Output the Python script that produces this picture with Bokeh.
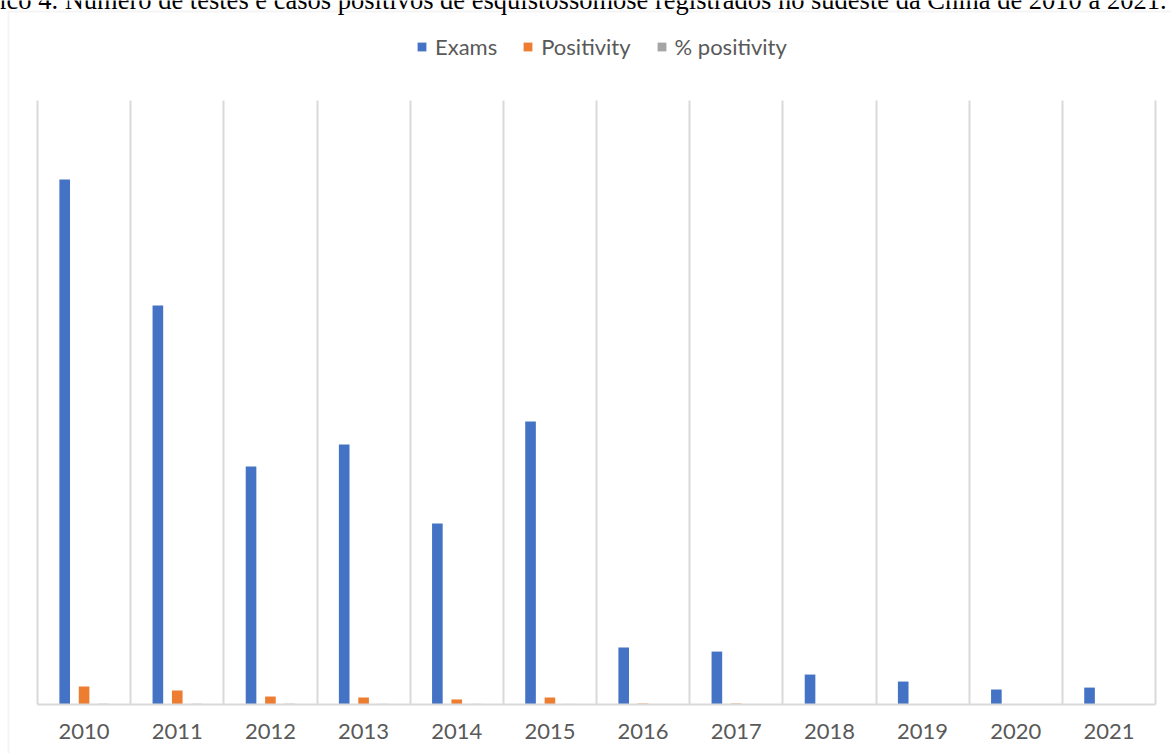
from bokeh.plotting import figure
from bokeh.models import (Range1d, FixedTicker, Legend, LegendItem, Label,
                          BoxAnnotation, ColumnDataSource)
from bokeh.transform import dodge
from bokeh.embed import file_html
from bokeh.resources import INLINE

# ---- data ----
years = ["2010", "2011", "2012", "2013", "2014", "2015",
         "2016", "2017", "2018", "2019", "2020", "2021"]
exams = [2173, 1652, 985, 1076, 749, 1171, 236, 219, 124, 95, 62, 70]
positivity = [75, 58, 33, 29, 21, 29, 4, 4, 1.2, 0.8, 0.4, 0.4]
pct_positivity = [3.4, 3.5, 3.4, 2.7, 2.8, 2.5, 1.7, 1.8, 1.0, 0.8, 0.6, 0.6]

caption = ("Gráfico 4. Número de testes e casos positivos de esquistossomose "
           "registrados no sudeste da China de 2010 a 2021.")

BLUE, ORANGE, GRAY = "#4472C4", "#ED7D31", "#A5A5A5"
LINE = "#D9D9D9"
TXT = "#595959"
FONT = "Lato"

# ---- layout (pixels of the page) ----
W, H = 1171, 753
PX_L, PX_R = 37, 1155      # plot area left / right
PX_T, PX_B = 100, 704      # plot area top / baseline
YTOP = 2500                # value at the top of the plot area

n = len(years)
ux = (PX_R - PX_L) / n
uy = YTOP / (PX_B - PX_T)
x_range = Range1d(-PX_L / ux, n + (W - PX_R) / ux)
y_range = Range1d(-(H - PX_B) * uy, YTOP + PX_T * uy)

centers = [i + 0.5 for i in range(n)]
src = ColumnDataSource(dict(x=centers, exams=exams, positivity=positivity,
                            pct=pct_positivity))

p = figure(width=W, height=H, x_range=x_range, y_range=y_range,
           output_backend="svg", toolbar_location=None,
           min_border_left=0, min_border_right=0, min_border_top=0,
           min_border_bottom=0)
p.title.visible = False
p.outline_line_color = None
p.background_fill_color = "white"
p.border_fill_color = "white"

bw = 0.114
r1 = p.vbar(x=dodge("x", -0.208, range=p.x_range), top="exams", width=bw,
            source=src, fill_color=BLUE, line_color=None)
r2 = p.vbar(x=dodge("x", 0.0, range=p.x_range), top="positivity", width=bw,
            source=src, fill_color=ORANGE, line_color=None)
r3 = p.vbar(x=dodge("x", 0.208, range=p.x_range), top="pct", width=bw,
            source=src, fill_color=GRAY, line_color=None)

# axes
p.yaxis.visible = False
p.ygrid.grid_line_color = None
xa = p.xaxis[0]
xa.fixed_location = 0
xa.bounds = (0, n)
xa.ticker = FixedTicker(ticks=centers)
xa.major_label_overrides = {c: y for c, y in zip(centers, years)}
xa.major_tick_line_color = None
xa.minor_tick_line_color = None
xa.axis_line_color = LINE
xa.axis_line_width = 2
xa.major_label_text_font = FONT
xa.major_label_text_font_size = "22px"
xa.major_label_text_color = TXT
xa.major_label_standoff = 13

p.xgrid.ticker = FixedTicker(ticks=list(range(n + 1)))
p.xgrid.cross_bounds = (0, YTOP)
p.xgrid.grid_line_color = LINE
p.xgrid.grid_line_width = 2

# legend
legend = Legend(items=[LegendItem(label="Exams", renderers=[r1]),
                       LegendItem(label="Positivity", renderers=[r2]),
                       LegendItem(label="% positivity", renderers=[r3])],
                orientation="horizontal", location=(416, H - 60),
                border_line_color=None, background_fill_alpha=0,
                label_text_font=FONT, label_text_font_size="22px",
                label_text_color=TXT, glyph_width=11, glyph_height=11,
                spacing=25, padding=0, margin=0, label_standoff=8)
p.add_layout(legend, "center")

# chart box border (left and top edges visible)
box = BoxAnnotation(left=8, right=3000, top=H - 11, bottom=-3000,
                    left_units="screen", right_units="screen",
                    top_units="screen", bottom_units="screen",
                    fill_alpha=0, line_color=LINE, line_width=2)
p.add_layout(box)

# caption above the chart box (cut at the page top)
cap = Label(x=1166, y=H + 1, x_units="screen", y_units="screen", text=caption,
            text_align="right", text_baseline="alphabetic",
            text_font="Liberation Serif", text_font_size="26.5px",
            text_color="black")
p.add_layout(cap)

open("out.html", "w").write(file_html(p, INLINE))
